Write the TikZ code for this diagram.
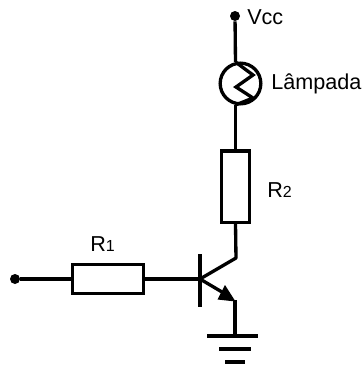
\documentclass[tikz,border=0pt]{standalone}
\usepackage{fontspec}
\setmainfont{Liberation Sans}
\newcommand{\subsz}[1]{{\fontsize{12pt}{14pt}\selectfont #1}}
\tikzset{
  wire/.style={line width=2.5pt,black},
  part/.style={draw=black,line width=2.5pt,fill=white,rectangle,inner sep=0pt},
  terminal/.style={circle,fill=black,inner sep=0pt,minimum size=7.5pt},
  lamp/.style={draw=black,line width=2.5pt,circle,inner sep=0pt,minimum size=30.5pt},
  lbl/.style={inner sep=0pt,anchor=west,font=\fontsize{16.2pt}{18pt}\selectfont}
}
\begin{document}
\begin{tikzpicture}[x=0.75pt,y=-0.75pt]
\useasboundingbox (0,0) rectangle (363,365);
\fill[white] (0,0) rectangle (363,365);
% terminals
\node[terminal] (vcc) at (235,16) {};
\node[terminal] (in) at (15,279) {};
% lamp
\node[lamp] (lamp) at (240.5,83.5) {};
\coordinate (ltop) at (235.5,62);
\coordinate (lbot) at (235.5,105);
\draw[wire,line join=miter] (ltop) -- (253,75) -- (236,87) -- (253,98) -- (lbot);
% resistors
\node[part,minimum width=21pt,minimum height=53.5pt] (r2) at (235.5,186.5) {};
\node[part,minimum width=53.5pt,minimum height=22pt] (r1) at (108,279) {};
% transistor
\coordinate (bTop) at (200,254);
\coordinate (bBot) at (200,307);
\coordinate (b) at (200,279);
\coordinate (c) at (236,258);
\coordinate (e) at (235,300);
\coordinate (g1) at (235,336);
\draw[wire] (bTop) -- (bBot);
\draw[wire] (vcc) -- (ltop);
\draw[wire] (lbot) -- (r2.north);
\draw[wire,line join=round] (r2.south) -- (c) -- (b);
\draw[wire] (in) -- (r1.west);
\draw[wire] (r1.east) -- (b);
\draw[wire] (b) -- (222,292);
\fill (235.5,301.5) -- (217.5,299.5) -- (225,285) -- cycle;
\draw[wire] (e) -- (g1);
% ground
\draw[wire] (207,336) -- (258,336);
\draw[wire] (219,349) -- (251,349);
\draw[wire] (225,362) -- (245,362);
% labels
\node[lbl] (lv) at (247,17) {Vcc};
\node[lbl] (ll) at (271,84) {Lâmpada};
\node[lbl] (lr1) at (90,244) {R\subsz{1}};
\node[lbl] (lr2) at (267,190.5) {R\subsz{2}};
\end{tikzpicture}
\end{document}
